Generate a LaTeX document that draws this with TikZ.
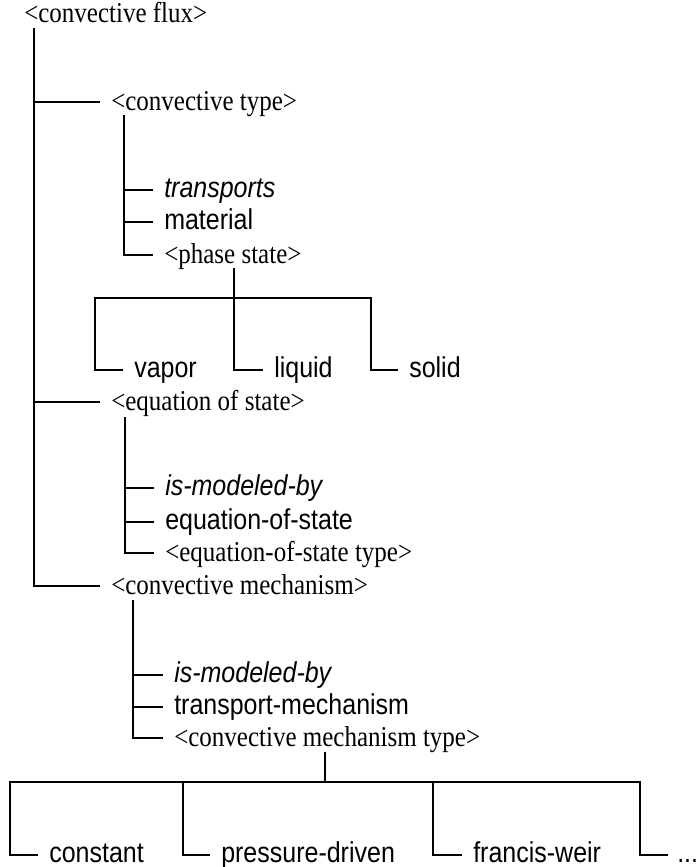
\documentclass[tikz,border=0pt]{standalone}
\usepackage{fontspec}
\usepackage{graphicx}
\setmainfont{Liberation Serif}
\setsansfont{Liberation Sans}
\newcommand{\vstr}[1]{\scalebox{1}[1.15]{#1}}
\begin{document}
\begin{tikzpicture}[x=1pt,y=-1pt,line width=2.5pt,
  lbl/.style={anchor=west,inner xsep=10pt,inner ysep=0pt},
  ser/.style={lbl,text height=21pt,text depth=5pt,font=\fontsize{25}{30}\selectfont},
  san/.style={lbl,text height=19pt,text depth=5pt,font=\sffamily\fontsize{25}{30}\selectfont},
  ita/.style={san,font=\sffamily\itshape\fontsize{25}{30}\selectfont}]
\useasboundingbox (0,0) rectangle (697,867);
\fill[white] (0,0) rectangle (697,867);
% nodes
\node[ser] (cf)  at (13,15)   {\vstr{<convective flux>}};
\node[ser] (ct)  at (100,102) {\vstr{<convective type>}};
\node[ita] (tr)  at (153,190) {\vstr{transports}};
\node[san] (ma)  at (153,222) {\vstr{material}};
\node[ser] (ps)  at (153,255) {\vstr{<phase state>}};
\node[san] (va)  at (123,370) {\vstr{vapor}};
\node[san] (li)  at (263,370) {\vstr{liquid}};
\node[san] (so)  at (398,370) {\vstr{solid}};
\node[ser] (es)  at (100,402) {\vstr{<equation of state>}};
\node[ita] (im1) at (154,488) {\vstr{is-modeled-by}};
\node[san] (eos) at (154,522) {\vstr{equation-of-state}};
\node[ser] (est) at (154,553) {\vstr{<equation-of-state type>}};
\node[ser] (cm)  at (100,586) {\vstr{<convective mechanism>}};
\node[ita] (im2) at (163,675) {\vstr{is-modeled-by}};
\node[san] (tm)  at (163,707) {\vstr{transport-mechanism}};
\node[ser] (cmt) at (163,738) {\vstr{<convective mechanism type>}};
\node[san] (co)  at (38,855)  {\vstr{constant}};
\node[san] (pd)  at (210,855) {\vstr{pressure-driven}};
\node[san] (fw)  at (462,855) {\vstr{francis-weir}};
\node[san,inner xsep=8pt] (dt) at (668,855) {\vstr{...}};
% main trunk
\coordinate (t0) at (34,28);
\draw (t0) |- (cm.west);
\draw (t0 |- ct.west) -- (ct.west);
\draw (t0 |- es.west) -- (es.west);
% convective type
\coordinate (t1) at (124,115);
\draw (t1) |- (ps.west);
\draw (t1 |- tr.west) -- (tr.west);
\draw (t1 |- ma.west) -- (ma.west);
% phase state
\coordinate (p0) at (234,268);
\coordinate (p1) at (234,298);
\coordinate (pb) at (95,298);
\coordinate (pe) at (371,298);
\draw (p0) -- (p1);
\draw (va.west) -| (pb) -- (pe) |- (so.west);
\draw (li.west) -| (p1);
% equation of state
\coordinate (t2) at (125,417);
\draw (t2) |- (est.west);
\draw (t2 |- im1.west) -- (im1.west);
\draw (t2 |- eos.west) -- (eos.west);
% convective mechanism
\coordinate (t3) at (133,600);
\draw (t3) |- (cmt.west);
\draw (t3 |- im2.west) -- (im2.west);
\draw (t3 |- tm.west) -- (tm.west);
% mechanism types
\coordinate (q0) at (325,752);
\coordinate (q1) at (325,782);
\coordinate (qb) at (10,782);
\coordinate (qe) at (640,782);
\coordinate (qp) at (183,782);
\coordinate (qf) at (433,782);
\draw (q0) -- (q1);
\draw (co.west) -| (qb) -- (qe) |- (dt.west);
\draw (pd.west) -| (qp);
\draw (fw.west) -| (qf);
\end{tikzpicture}
\end{document}
